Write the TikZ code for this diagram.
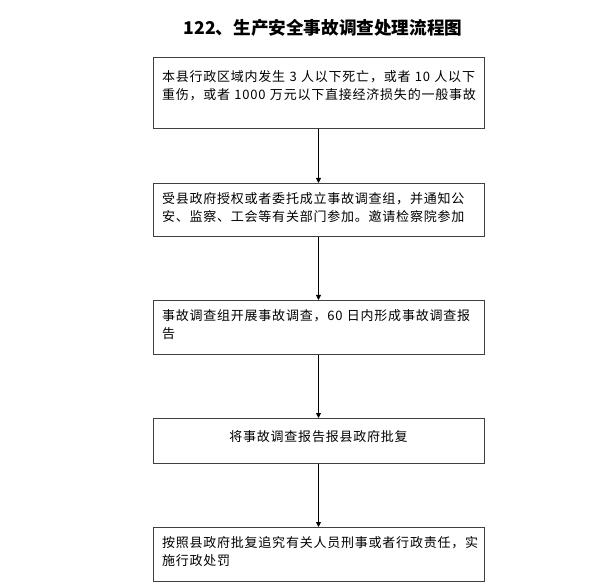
\documentclass[tikz,border=0pt]{standalone}
\usepackage{fontspec}
\setmainfont{Noto Sans CJK SC}
\newfontfamily\boxfont{Noto Sans CJK SC}[LetterSpace=6]
\usetikzlibrary{arrows.meta, positioning}

\begin{document}
\begin{tikzpicture}[
  x=1pt, y=1pt,
  node distance=63pt,
  box/.style={draw=black!75, line width=1pt, text width=313pt, inner xsep=9pt, inner ysep=0pt, text height=20pt, align=left, font=\boxfont\fontsize{13}{18}\selectfont},
  arrow/.style={-{Triangle[length=5pt, width=5pt]}, line width=0.8pt}
  ]
\useasboundingbox (0,0) rectangle (600,-588);

% Title
\node[font=\bfseries\fontsize{17.6}{20}\selectfont] (title) at (323,-28) {122、生产安全事故调查处理流程图};

% Nodes
\node[box, anchor=north, text height=24pt, text depth=47pt] (accident) at (318.5,-57) {本县行政区域内发生~3~人以下死亡，或者~10~人以下\\重伤，或者~1000~万元以下直接经济损失的一般事故};
\node[box, below=54pt of accident, text depth=33pt] (group) {受县政府授权或者委托成立事故调查组，并通知公\\安、监察、工会等有关部门参加。邀请检察院参加};
\node[box, below=of group, text depth=34pt] (survey) {事故调查组开展事故调查，60~日内形成事故调查报\\告};
\node[box, below=of survey, align=center, text height=23pt, text depth=22pt] (approve) {将事故调查报告报县政府批复};
\node[box, below=of approve, text depth=34pt] (punish) {按照县政府批复追究有关人员刑事或者行政责任，实\\施行政处罚};

% Arrows
\draw[arrow] (accident) -- (group);
\draw[arrow] (group) -- (survey);
\draw[arrow] (survey) -- (approve);
\draw[arrow] (approve) -- (punish);

\end{tikzpicture}
\end{document}
